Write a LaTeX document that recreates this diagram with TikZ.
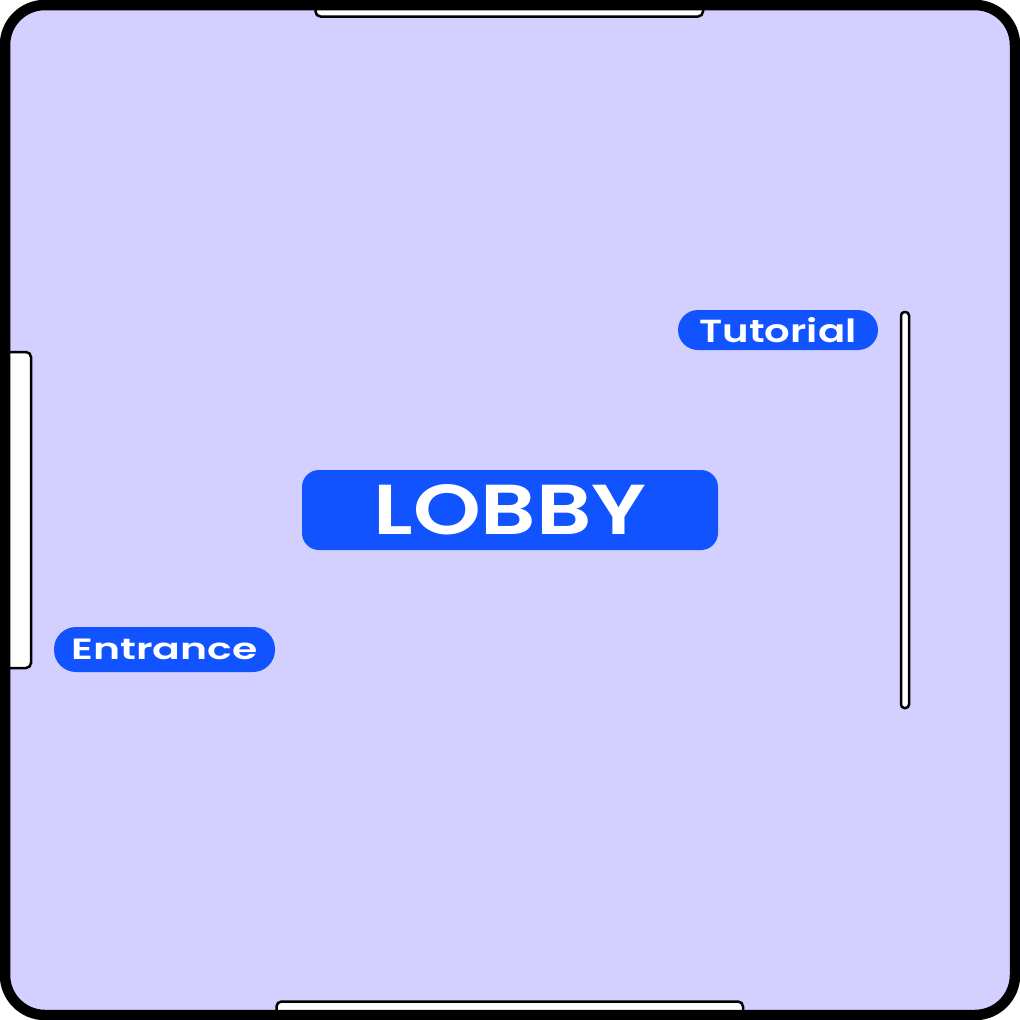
\documentclass[tikz,border=0pt]{standalone}
\usepackage{fontspec}
\setmainfont{Poppins}[BoldFont={Poppins SemiBold}]
\usepackage{graphicx}
\definecolor{lav}{RGB}{211,208,255}
\definecolor{pillblue}{RGB}{17,84,255}
\tikzset{
  door/.style={draw=black, line width=2.5pt, fill=white, rounded corners=5pt},
  pill/.style={fill=pillblue, text=white, inner sep=0pt, rounded corners=#1},
}
\begin{document}
\begin{tikzpicture}[x=1pt,y=-1pt]
\useasboundingbox (0,0) rectangle (1020,1020);
% room floor
\fill[lav, rounded corners=40pt] (5,5) rectangle (1015,1015);
% doors / openings
\draw[door] (315.5,-30) rectangle (703,16.5);
\draw[door] (276.5,1001.5) rectangle (743,1050);
\draw[door] (-30,352) rectangle (31,668);
% frame
\draw[line width=10.5pt, rounded corners=40pt] (5,5) rectangle (1015,1015);
% inner wall
\draw[draw=black, line width=2.5pt, fill=white, rounded corners=3.5pt] (901,312) rectangle (909,708);
% labels
\node[pill=17pt, minimum width=416pt, minimum height=80pt] (lobby) at (510,510)
  {\resizebox{273pt}{50pt}{\bfseries LOBBY}};
\node[pill=22pt, minimum width=221pt, minimum height=45pt] (entrance) at (164.5,649.5)
  {\resizebox{186pt}{20.5pt}{\bfseries Entrance}};
\node[pill=20pt, minimum width=200pt, minimum height=40pt] (tutorial) at (778,330)
  {\resizebox{157pt}{25pt}{\bfseries Tutorial}};
\end{tikzpicture}
\end{document}
